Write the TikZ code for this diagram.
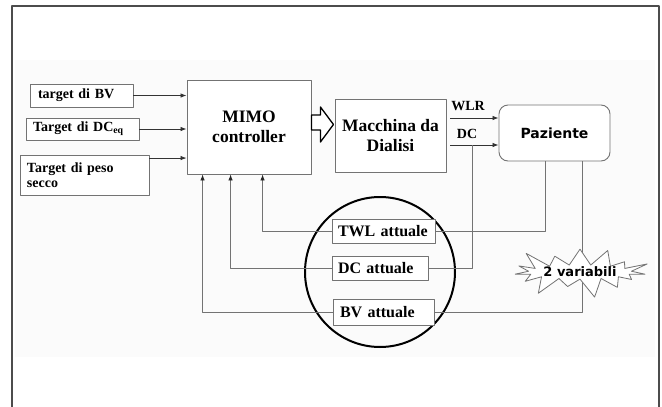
\documentclass[tikz,border=0pt]{standalone}
\usepackage{fontspec}
\setmainfont{Liberation Serif}
\newfontfamily\pazfont{DejaVu Sans}
\usetikzlibrary{arrows.meta,shapes.symbols}

\begin{document}
\begin{tikzpicture}[
    x=1pt, y=-1pt, line join=round,
    >={Latex[length=6pt,width=4.5pt]},
    box/.style={draw=black!55, line width=0.9pt, fill=white, inner sep=0pt},
    tgt/.style={box, align=left, font=\fontsize{14}{15}\selectfont\bfseries},
    blk/.style={box, align=center, font=\fontsize{17.5}{20}\selectfont\bfseries},
    mis/.style={box, align=left, font=\fontsize{16}{17}\selectfont\bfseries},
    lbl/.style={inner sep=0pt, font=\fontsize{14}{15}\selectfont\bfseries},
    sig/.style={->, draw=black!80, line width=0.8pt},
    fb/.style={draw=black!55, line width=0.8pt},
    fbin/.style={fb, -{Latex[length=6pt,width=4.5pt,black!85]}}]
  \useasboundingbox (0,0) rectangle (662,407);
  % sfondo e cornice
  \fill[black!1.5] (15,60) rectangle (655,357);
  \draw[black!70, line width=1.5pt] (12,407) -- (12,6) -- (659,6) -- (659,407);
  % misure
  \node[circle, draw=black, line width=2pt, minimum size=150pt] (grp) at (380,272) {};
  \node[mis, minimum width=103pt, minimum height=24pt, text width=91pt] (twl) at (383.5,231) {TWL attuale};
  \node[mis, minimum width=96pt, minimum height=24pt, text width=84pt] (dca) at (380,268) {DC attuale};
  \node[mis, minimum width=101pt, minimum height=26pt, text width=87pt] (bva) at (383.5,312) {BV attuale};
  % target
  \node[tgt, minimum width=103pt, minimum height=23pt, text width=87pt] (tbv) at (81.5,95.5) {target di BV};
  \node[tgt, minimum width=113pt, minimum height=22pt, text width=99pt] (tdc) at (82.5,129) {Target di DC\textsubscript{eq}};
  \node[tgt, minimum width=129pt, minimum height=40pt, text width=115pt] (tps) at (84.5,175.5) {Target di peso\\secco};
  % blocchi
  \node[blk, minimum width=124pt, minimum height=94pt] (mimo) at (249,127) {MIMO\\controller};
  \node[blk, minimum width=111pt, minimum height=73pt] (mac) at (390.5,135.5) {Macchina da\\Dialisi};
  \node[box, rounded corners=9pt, minimum width=111pt, minimum height=56pt,
        font=\pazfont\fontsize{14}{15}\selectfont\bfseries] (paz) at (554.5,133) {Paziente};
  % freccia vuota
  \draw[line width=1.3pt, fill=white] (mimo.east) ++(0,-12) -- ++(9,0) -- ++(0,-8)
    -- ++(13,17.5) -- ++(-13,17.5) -- ++(0,-12) -- ++(-9,0) -- cycle;
  % ingressi
  \draw[sig] (tbv.east) -- (tbv.east -| mimo.west);
  \draw[sig] (tdc.east) -- (tdc.east -| mimo.west);
  \draw[sig] ([yshift=-3pt]tps.north east) -- ([yshift=-3pt]tps.north east -| mimo.west);
  % uscite macchina
  \coordinate (wlr) at (450,118);
  \coordinate (dco) at (450,145);
  \coordinate (dctap) at (472,145);
  \draw[sig] (wlr) -- (wlr -| paz.west);
  \draw[sig] (dco) -- (dco -| paz.west);
  \node[lbl, anchor=south] (wlrl) at (468,111) {WLR};
  \node[lbl, anchor=south] (dcl) at (467,139) {DC};
  % retroazione
  \draw[fb] ([xshift=47pt]paz.south west) |- (twl.east);
  \draw[fb] (dctap) |- (dca.east);
  \draw[fb] ([xshift=84pt]paz.south west) |- (bva.east);
  \draw[fbin] (twl.west) -| ([xshift=76pt]mimo.south west);
  \draw[fbin] (dca.west) -| ([xshift=44pt]mimo.south west);
  \draw[fbin] (bva.west) -| ([xshift=16pt]mimo.south west);
  % nota
  \node[starburst, draw=black!55, line width=0.8pt, fill=white, inner sep=0pt,
        minimum width=135pt, minimum height=57pt, starburst point height=22pt,
        starburst points=15, font=\pazfont\fontsize{13}{14}\selectfont\bfseries]
        (var) at (580,272) {2 variabili};
\end{tikzpicture}
\end{document}
